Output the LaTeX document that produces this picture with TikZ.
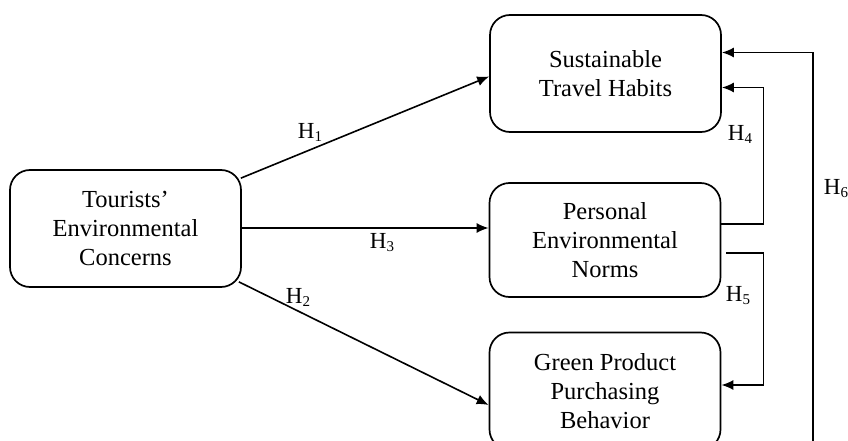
\documentclass[tikz,border=0pt]{standalone}
\usepackage{fontspec}
\setmainfont{Liberation Serif}
\usetikzlibrary{calc,arrows.meta}
\newcommand\hyp[1]{H\raisebox{-0.13em}{\fontsize{15}{15}\selectfont #1}}
\begin{document}
\begin{tikzpicture}[x=1pt,y=-1pt,
  box/.style={draw, line width=1.7pt, rounded corners=20pt, align=center,
    minimum width=231pt, minimum height=117pt, inner sep=0pt,
    font=\fontsize{24.5}{29}\selectfont},
  arr/.style={line width=1.6pt, -{Latex[length=12pt,width=10pt]}},
  lbl/.style={font=\fontsize{23}{26}\selectfont, inner sep=0pt}]
\useasboundingbox (0,0) rectangle (848,441);
\clip (0,0) rectangle (848,441);
\fill[white] (0,0) rectangle (848,441);
\node[box] (TEC) at (125.5,228.5) {Tourists’\\Environmental\\Concerns};
\node[box] (STH) at (605.5,73.5) {Sustainable\\Travel Habits};
\node[box, minimum height=114pt] (PEN) at (605,240) {Personal\\Environmental\\Norms};
\node[box] (GPB) at (605,391) {Green Product\\Purchasing\\Behavior};
\coordinate (h6start) at (813,441);
% H1
\draw[arr] ($(TEC.north east)+(-1,9)$) -- ($(STH.west)+(0,3)$);
% H2
\draw[arr] ($(TEC.south east)+(-3,-6)$) -- ($(GPB.west)+(0,14)$);
% H3
\draw[arr] ($(TEC.east)+(0,-0.5)$) -- ($(PEN.west)+(0,-12)$);
% H4
\draw[arr] ($(PEN.east)+(0,-16)$) -- ++(42,0) |- ($(STH.east)+(0,14)$);
% H5
\draw[arr] ($(PEN.east)+(5,13)$) -- ++(37,0) |- ($(GPB.east)+(0,-6)$);
% H6
\draw[arr] (h6start) |- ($(STH.east)+(0,-21)$);
\node[lbl] (l1) at (310,132) {\hyp{1}};
\node[lbl] (l2) at (298,297) {\hyp{2}};
\node[lbl] (l3) at (382,243) {\hyp{3}};
\node[lbl] (l4) at (740,134) {\hyp{4}};
\node[lbl] (l5) at (738,296) {\hyp{5}};
\node[lbl] (l6) at (836,189) {\hyp{6}};
\end{tikzpicture}
\end{document}
